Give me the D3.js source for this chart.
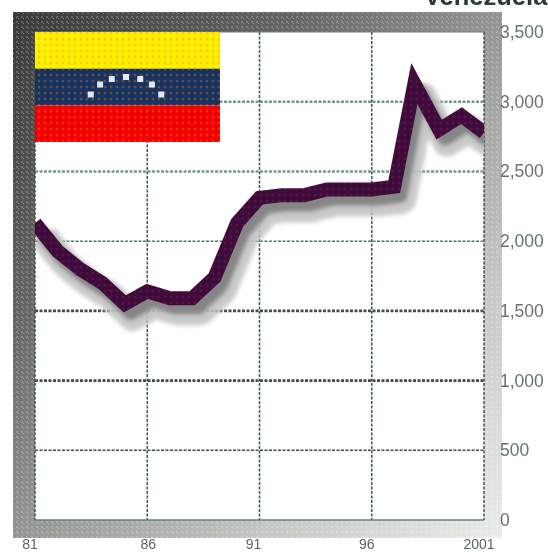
<!DOCTYPE html>
<html><head><meta charset="utf-8">
<script src="https://cdn.jsdelivr.net/npm/d3@7"></script>
<style>html,body{margin:0;padding:0;background:#fff}svg{display:block}</style>
</head><body><svg id="c" width="548" height="553"></svg>
<script>
const years=[1981,1982,1983,1984,1985,1986,1987,1988,1989,1990,1991,1992,1993,1994,1995,1996,1997,1997.9,1999,2000,2001];
const values=[2130,1930,1800,1700,1550,1640,1590,1590,1740,2130,2310,2330,2330,2370,2370,2370,2390,3130,2800,2900,2780];
const yTicks=[0,500,1000,1500,2000,2500,3000,3500];
const xTicks=[1981,1986,1991,1996,2001];
const xLabels=["81","86","91","96","2001"];
const flagColors=["#fdf000","#12305f","#f00000"];
const starAngles=[-158,-133,-112,-90,-68,-47,-22];

const svg=d3.select("#c");
const L=35,R=484,T=32,B=520;
const x=d3.scaleLinear().domain([1981,2001]).range([L,R]);
const y=d3.scaleLinear().domain([0,3500]).range([B,T]);
const defs=svg.append("defs");

const g=defs.append("linearGradient").attr("id","fr").attr("x1",0).attr("y1",0).attr("x2",1).attr("y2",1);
[[0,"#383838"],[.3,"#666"],[.5,"#949494"],[.75,"#c6c6c6"],[1,"#ececec"]].forEach(d=>g.append("stop").attr("offset",d[0]).attr("stop-color",d[1]));
const p=defs.append("pattern").attr("id","dots").attr("width",5).attr("height",5).attr("patternUnits","userSpaceOnUse");
p.append("rect").attr("x",1).attr("y",1).attr("width",2).attr("height",2).attr("fill","#fff").attr("opacity",.2);
p.append("rect").attr("x",3).attr("y",3).attr("width",1).attr("height",1).attr("fill","#e8e070").attr("opacity",.45);
const lp=defs.append("pattern").attr("id","lineTex").attr("width",6).attr("height",6).attr("patternUnits","userSpaceOnUse");
lp.append("rect").attr("width",6).attr("height",6).attr("fill","#3a0a3c");
lp.append("circle").attr("cx",3).attr("cy",3).attr("r",1.5).attr("fill","#650c3c");
const fd=defs.append("pattern").attr("id","flagTex").attr("width",6).attr("height",6).attr("patternUnits","userSpaceOnUse");
fd.append("circle").attr("cx",3).attr("cy",3).attr("r",1.5).attr("fill","#ff8030").attr("opacity",.35);
const sh=defs.append("pattern").attr("id","shTex").attr("width",4).attr("height",4).attr("patternUnits","userSpaceOnUse");
sh.append("rect").attr("width",4).attr("height",4).attr("fill","#b8b8b8");
sh.append("rect").attr("x",1).attr("y",1).attr("width",2).attr("height",2).attr("fill","#e4e4e4");
defs.append("filter").attr("id","b1").append("feGaussianBlur").attr("stdDeviation",.7);
defs.append("filter").attr("id","b2").attr("x","-20%").attr("y","-20%").attr("width","140%").attr("height","140%").append("feGaussianBlur").attr("stdDeviation",2.2);
defs.append("filter").attr("id","b3").append("feGaussianBlur").attr("stdDeviation",.45);
defs.append("clipPath").attr("id","plot").append("rect").attr("x",L).attr("y",T).attr("width",R-L).attr("height",B-T);

// frame
const frame=svg.append("g").attr("filter","url(#b3)");
const fp=`M13,12H502V538H13Z M${L},${T}V${B}H${R}V${T}Z`;
frame.append("path").attr("d",fp).attr("fill-rule","evenodd").attr("fill","url(#fr)");
frame.append("path").attr("d",fp).attr("fill-rule","evenodd").attr("fill","url(#dots)");

// grid
const grid=svg.append("g").attr("filter","url(#b3)");
const strength=d=>d===1500||d===1000?2.8:d===3000||d===2500?2.6:1.5;
yTicks.filter(d=>d>0&&d<3500).forEach(d=>{
  grid.append("line").attr("x1",L).attr("x2",R).attr("y1",y(d)).attr("y2",y(d))
    .attr("stroke",d>=2500?"#6f9a8a":d===2000?"#4f7a68":"#45494a").attr("stroke-width",strength(d)).attr("stroke-dasharray","3 1.5");
});
xTicks.forEach(d=>{
  grid.append("line").attr("x1",x(d)).attr("x2",x(d)).attr("y1",T).attr("y2",B)
    .attr("stroke","#3f5a48").attr("stroke-width",1.5).attr("stroke-dasharray","3 1.5");
});
grid.append("line").attr("x1",L).attr("x2",R).attr("y1",B).attr("y2",B).attr("stroke","#5a8a78").attr("stroke-width",1.5);
grid.append("line").attr("x1",L).attr("x2",R).attr("y1",T).attr("y2",T).attr("stroke","#6a7a6a").attr("stroke-width",1);

// flag
const fy=d3.scaleBand().domain(flagColors).range([T,142]);
const flag=svg.append("g").attr("filter","url(#b3)");
flag.selectAll("rect.s").data(flagColors).join("rect").attr("class","s")
  .attr("x",L).attr("y",d=>fy(d)).attr("width",185).attr("height",fy.bandwidth()).attr("fill",d=>d);
flag.append("rect").attr("x",L).attr("y",T).attr("width",185).attr("height",110).attr("fill","url(#flagTex)");
svg.append("g").selectAll("rect").data(starAngles).join("rect")
  .attr("x",d=>126+38*Math.cos(d*Math.PI/180)-3).attr("y",d=>105+28*Math.sin(d*Math.PI/180)-3)
  .attr("width",6).attr("height",6).attr("fill","#e6e8ee").attr("filter","url(#b3)");

// line
const line=d3.line().x((d,i)=>x(years[i])).y(d=>y(d));
const pl=svg.append("g").attr("clip-path","url(#plot)");
pl.append("path").datum(values).attr("d",line).attr("fill","none").attr("stroke","url(#shTex)").attr("stroke-width",28)
  .attr("stroke-linejoin","round").attr("transform","translate(8,13)").attr("filter","url(#b2)").attr("opacity",.9);
pl.append("path").datum(values).attr("d",line).attr("fill","none").attr("stroke","#858585").attr("stroke-width",14)
  .attr("stroke-linejoin","round").attr("transform","translate(6,9)").attr("filter","url(#b2)");
pl.append("path").datum(values).attr("d",line).attr("fill","none").attr("stroke","url(#lineTex)").attr("stroke-width",14)
  .attr("stroke-linejoin","miter").attr("stroke-miterlimit",6).attr("filter","url(#b3)");

// text
const txt=svg.append("g").attr("filter","url(#b1)").attr("font-family","'Liberation Sans',Arial,sans-serif");
yTicks.forEach(d=>{
  txt.append("text").attr("x",500).attr("y",y(d)+6).attr("font-size",17.5).attr("fill","#657565").text(d3.format(",")(d));
});
const labelShift=[-5,1,-6,-5,-5];
xTicks.forEach((d,i)=>{
  txt.append("text").attr("x",x(d)+labelShift[i]).attr("y",549).attr("text-anchor","middle").attr("font-size",14).attr("fill","#586858").text(xLabels[i]);
});
txt.append("text").attr("x",424).attr("y",5).attr("font-size",25.5).attr("font-weight","bold").attr("fill","#2a3a30").text("Venezuela");
</script></body></html>
